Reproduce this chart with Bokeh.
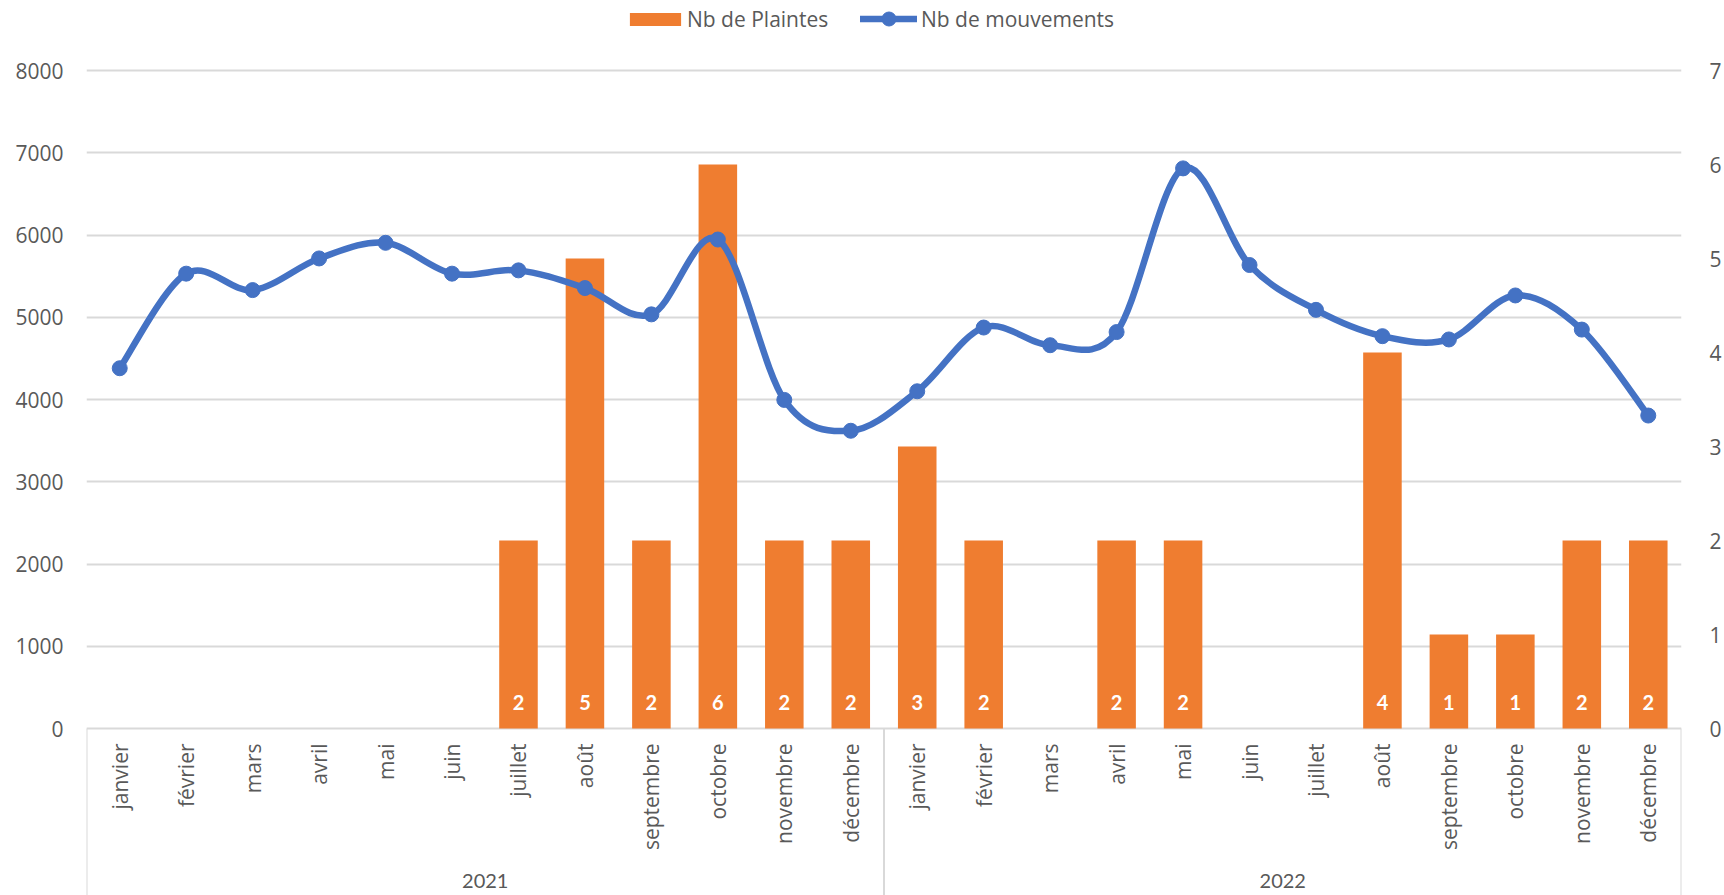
import numpy as np
from bokeh.plotting import figure
from bokeh.models import (FactorRange, Range1d, LinearAxis, FixedTicker,
                          ColumnDataSource, Legend, LegendItem)
from bokeh.embed import file_html
from bokeh.resources import INLINE
from bokeh.core.properties import value

# ---------------- data ----------------
years = ["2021", "2022"]
months = ["janvier", "février", "mars", "avril", "mai", "juin", "juillet",
          "août", "septembre", "octobre", "novembre", "décembre"]
plaintes_2021 = [0, 0, 0, 0, 0, 0, 2, 5, 2, 6, 2, 2]
plaintes_2022 = [3, 2, 0, 2, 2, 0, 0, 4, 1, 1, 2, 2]
mouvements_2021 = [4380, 5530, 5330, 5715, 5905, 5530, 5570, 5355, 5035, 5945, 3995, 3620]
mouvements_2022 = [4100, 4875, 4660, 4820, 6810, 5635, 5090, 4770, 4730, 5265, 4850, 3805]
left_ticks = [0, 1000, 2000, 3000, 4000, 5000, 6000, 7000, 8000]
right_ticks = [0, 1, 2, 3, 4, 5, 6, 7]

# ---------------- layout constants ----------------
W, H = 1724, 895
FRAME_L, FRAME_R = 86, 40
LEFT_MAX, RIGHT_MAX = 8000, 7
Y_TOP_PX = 70.0      # pixel of the 8000 gridline
Y_ZERO_PX = 728.0    # pixel of the 0 line
k = (Y_ZERO_PX - Y_TOP_PX) / LEFT_MAX
left_end = LEFT_MAX + Y_TOP_PX / k
left_start = -(H - Y_ZERO_PX) / k
right_end = left_end * RIGHT_MAX / LEFT_MAX
right_start = left_start * RIGHT_MAX / LEFT_MAX

GREY = "#595959"
GRID = "#D9D9D9"
ORANGE = "#EF7D30"
BLUE = "#4472C4"
FS = "21px"

factors = [(y, m) for y in years for m in months]
plaintes = plaintes_2021 + plaintes_2022
mouvements = mouvements_2021 + mouvements_2022

p = figure(width=W, height=H, output_backend="svg", toolbar_location=None,
           x_range=FactorRange(*factors, factor_padding=0, group_padding=0,
                               subgroup_padding=0, range_padding=0),
           y_range=Range1d(left_start, left_end),
           x_axis_location=None, y_axis_location="left",
           min_border_left=FRAME_L, min_border_right=FRAME_R,
           min_border_top=0, min_border_bottom=0)
p.extra_y_ranges = {"right": Range1d(right_start, right_end)}
p.outline_line_color = None
p.background_fill_color = "white"
p.border_fill_color = "white"
p.xgrid.visible = False

# left axis
ya = p.yaxis[0]
ya.ticker = FixedTicker(ticks=left_ticks)
ya.axis_line_color = None
ya.major_tick_line_color = None
ya.minor_tick_line_color = None
ya.major_label_standoff = 17
ya.major_label_text_font = "Open Sans"
ya.major_label_text_font_size = FS
ya.major_label_text_color = GREY

p.ygrid.ticker = FixedTicker(ticks=left_ticks)
p.ygrid.grid_line_color = GRID
p.ygrid.grid_line_width = 2

# right axis
ra = LinearAxis(y_range_name="right", ticker=FixedTicker(ticks=right_ticks))
ra.axis_line_color = None
ra.major_tick_line_color = None
ra.minor_tick_line_color = None
ra.major_label_standoff = 22
ra.major_label_text_font = "Open Sans"
ra.major_label_text_font_size = FS
ra.major_label_text_color = GREY
p.add_layout(ra, "right")

# category box separators
n = len(months)
bounds = [i * n for i in range(len(years) + 1)]
p.segment(x0=bounds, y0=[0] * len(bounds), x1=bounds, y1=[left_start] * len(bounds),
          line_color=GRID, line_width=2)

# bars
bar_src = ColumnDataSource(dict(x=factors, top=plaintes))
bars = p.vbar(x="x", top="top", width=0.58, source=bar_src, y_range_name="right",
              fill_color=ORANGE, line_color=None)

# smoothed line (cubic bezier segments through the points)
xs = np.arange(len(mouvements)) + 0.5
ys = np.array(mouvements, dtype=float)
m_ = len(xs)
x0, y0, x1, y1, cx0, cy0, cx1, cy1 = [], [], [], [], [], [], [], []
for i in range(m_ - 1):
    pr = max(i - 1, 0)
    nx = min(i + 2, m_ - 1)
    x0.append(xs[i]); y0.append(ys[i])
    x1.append(xs[i + 1]); y1.append(ys[i + 1])
    cx0.append(xs[i] + (xs[i + 1] - xs[pr]) / 6)
    cy0.append(ys[i] + (ys[i + 1] - ys[pr]) / 6)
    cx1.append(xs[i + 1] - (xs[nx] - xs[i]) / 6)
    cy1.append(ys[i + 1] - (ys[nx] - ys[i]) / 6)
curve = p.bezier(x0=x0, y0=y0, x1=x1, y1=y1, cx0=cx0, cy0=cy0, cx1=cx1, cy1=cy1,
                 line_color=BLUE, line_width=6.5, line_cap="round")
dots = p.scatter(x=factors, y=mouvements, size=15, fill_color=BLUE, line_color=BLUE)

# data labels inside bars
lab_x = [f for f, v in zip(factors, plaintes) if v > 0]
lab_t = [str(v) for v in plaintes if v > 0]
p.text(x=lab_x, y=[0] * len(lab_x), text=lab_t, y_range_name="right",
       y_offset=-26, text_align="center", text_baseline="middle",
       text_color="white", text_font=value("Lato"), text_font_style="bold",
       text_font_size="20px")

# month labels (rotated) and year labels
p.text(x=factors, y=[0] * len(factors), text=[f[1] for f in factors],
       angle=np.pi / 2, text_align="right", text_baseline="middle", y_offset=15,
       text_color=GREY, text_font=value("Open Sans"), text_font_size=FS)
p.text(x=years, y=[0] * len(years), text=years, y_offset=152,
       text_align="center", text_baseline="middle",
       text_color=GREY, text_font=value("Lato"), text_font_size="20px")


def make_legend(item, loc, gw, gh, standoff):
    lg = Legend(items=[item], orientation="horizontal", location=loc)
    lg.label_text_font = "Open Sans"
    lg.label_text_font_size = FS
    lg.label_text_color = GREY
    lg.glyph_width = gw
    lg.glyph_height = gh
    lg.label_standoff = standoff
    lg.padding = 0
    lg.margin = 0
    lg.border_line_color = None
    lg.background_fill_alpha = 0
    return lg


p.add_layout(make_legend(LegendItem(label="Nb de Plaintes", renderers=[bars]),
                         (623 - FRAME_L, H - 33), 64, 16, 0))
p.add_layout(make_legend(LegendItem(label="Nb de mouvements", renderers=[curve, dots]),
                         (860 - FRAME_L, H - 36), 57, 35, 4))

open("out.html", "w").write(file_html(p, INLINE))
